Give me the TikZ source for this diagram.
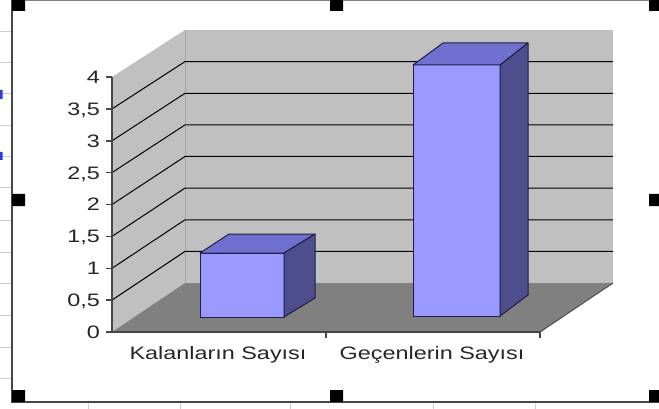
\documentclass[tikz,border=0pt]{standalone}
\usepackage{fontspec}
\setmainfont{Liberation Sans}[FakeStretch=1.3]
\usepackage{tikz}
\definecolor{wallgray}{RGB}{192,192,192}
\definecolor{floorgray}{RGB}{128,128,128}
\definecolor{barfr}{RGB}{153,153,255}
\definecolor{bartp}{RGB}{112,112,208}
\definecolor{barsd}{RGB}{78,78,140}
\definecolor{barln}{RGB}{30,30,70}
\definecolor{axisgray}{RGB}{70,70,70}
\definecolor{cellgray}{RGB}{205,205,205}
\definecolor{cellblue}{RGB}{40,60,230}
\tikzset{
  wallface/.style={fill=wallgray},
  floorface/.style={fill=floorgray},
  gridln/.style={black, line width=1pt},
  axisln/.style={axisgray, line width=1.6pt},
  barface/.style={draw=barln, line width=1pt, line join=round},
  ticklbl/.style={anchor=base east, inner sep=0pt, font=\fontsize{18}{20}\selectfont, text=black!85},
  catlbl/.style={anchor=base, inner sep=0pt, font=\fontsize{18}{20}\selectfont, text=black!85},
  handle/.style={fill=black}
}

\begin{document}
\begin{tikzpicture}[x=1pt, y=-1pt]
 \useasboundingbox (0,0) rectangle (659,409);
 \fill[white] (0,0) rectangle (659,409);
 % sheet cells round the chart
 \draw[cellgray] (0,31) -- ++(11,0) (0,62) -- ++(11,0) (0,93) -- ++(11,0) (0,125) -- ++(11,0) (0,156) -- ++(11,0) (0,187) -- ++(11,0) (0,220) -- ++(11,0) (0,252) -- ++(11,0) (0,283) -- ++(11,0) (0,315) -- ++(11,0) (0,347) -- ++(11,0) (0,378) -- ++(11,0);
 \draw[cellgray] (88,403) -- ++(0,6) (180,403) -- ++(0,6) (290,403) -- ++(0,6) (433,403) -- ++(0,6) (535,403) -- ++(0,6);
 \fill[cellblue] (0,90) rectangle (2.5,99) (0,152) rectangle (2.5,160);
 % walls and floor
 \coordinate (fl) at (112,332);
 \coordinate (ft) at (112,77);
 \coordinate (bl) at (185,283);
 \coordinate (bt) at (185,30);
 \coordinate (br) at (613,283);
 \coordinate (brt) at (613,30);
 \coordinate (fr) at (540,332);
 \fill[wallface] (fl) -- (ft) -- (bt) -- (bl) -- cycle;
 \fill[wallface] (bl) -- (bt) -- (brt) -- (br) -- cycle;
 \fill[floorface] (fl) -- (bl) -- (br) -- (fr) -- cycle;
 \draw[gray!70!white, line width=0.8pt] (bl) -- (bt);
 \draw[black!70, line width=1pt] (fr) -- (br);
 % gridlines
 \draw[gridln] (112,300.1) -- (185,251.4) -- (613,251.4);
 \draw[gridln] (112,268.3) -- (185,219.8) -- (613,219.8);
 \draw[gridln] (112,236.4) -- (185,188.1) -- (613,188.1);
 \draw[gridln] (112,204.5) -- (185,156.5) -- (613,156.5);
 \draw[gridln] (112,172.6) -- (185,124.9) -- (613,124.9);
 \draw[gridln] (112,140.8) -- (185,93.3) -- (613,93.3);
 \draw[gridln] (112,108.9) -- (185,61.6) -- (613,61.6);
 % axes
 \draw[axisln] (ft) -- (fl) -- (fr);
 \draw[axisln] (106,332) -- (112,332) (106,300.1) -- (112,300.1) (106,268.3) -- (112,268.3) (106,236.4) -- (112,236.4) (106,204.5) -- (112,204.5) (106,172.6) -- (112,172.6) (106,140.8) -- (112,140.8) (106,108.9) -- (112,108.9) (106,77) -- (112,77);
 \draw[axisln] (326,332) -- (326,338) (540,332) -- (540,338);
 % bar 1
 \filldraw[barface, fill=barfr] (200,253) rectangle (284,317);
 \filldraw[barface, fill=bartp] (200,253) -- (229,234) -- (315,234) -- (284,253) -- cycle;
 \filldraw[barface, fill=barsd] (284,253) -- (315,234) -- (315,298) -- (284,317) -- cycle;
 % bar 2
 \filldraw[barface, fill=barfr] (413,65) rectangle (500,316);
 \filldraw[barface, fill=bartp] (413,65) -- (443,43) -- (528,43) -- (500,65) -- cycle;
 \filldraw[barface, fill=barsd] (500,65) -- (528,43) -- (528,295) -- (500,316) -- cycle;
 % tick labels
 \node[ticklbl] (t0) at (100,338.4) {0};
 \node[ticklbl] (t05) at (100,306.5) {0,5};
 \node[ticklbl] (t1) at (100,274.7) {1};
 \node[ticklbl] (t15) at (100,242.8) {1,5};
 \node[ticklbl] (t2) at (100,210.9) {2};
 \node[ticklbl] (t25) at (100,179) {2,5};
 \node[ticklbl] (t3) at (100,147.2) {3};
 \node[ticklbl] (t35) at (100,115.3) {3,5};
 \node[ticklbl] (t4) at (100,83.4) {4};
 % category labels
 \node[catlbl] (kal) at (218,359) {Kalanların Sayısı};
 \node[catlbl] (gec) at (432,359) {Geçenlerin Sayısı};
 % chart frame and handles
 \draw[axisgray, line width=1.5pt] (12,0) -- (12,402) -- (659,402);
 \draw[gray, line width=1pt] (12,0.5) -- (659,0.5);
 \fill[handle] (12,0) rectangle (25,11) (330,0) rectangle (343,11) (649,0) rectangle (659,11);
 \fill[handle] (12,194) rectangle (25,206) (649,194) rectangle (659,206);
 \fill[handle] (12,390) rectangle (25,402) (330,390) rectangle (343,402) (649,390) rectangle (659,402);
\end{tikzpicture}
\end{document}
